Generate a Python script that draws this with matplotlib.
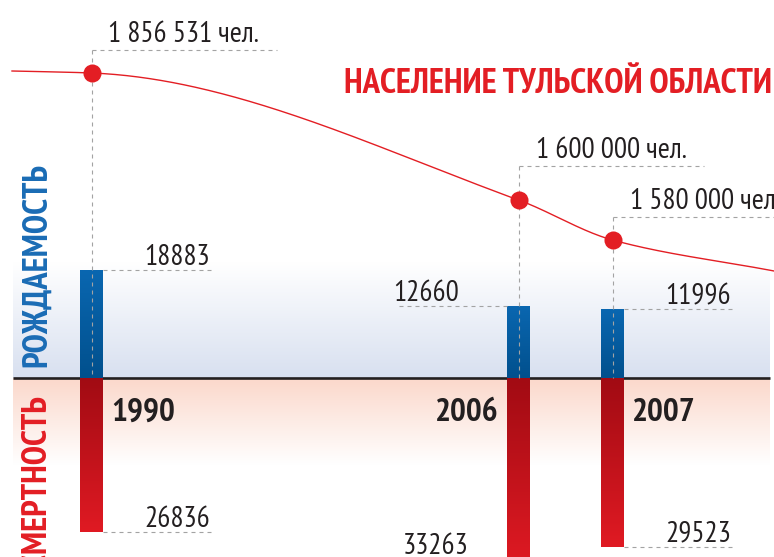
"""
Население Тульской области: рождаемость / смертность, 1990-2007.
Infographic-style recreation: births up (blue), deaths down (red),
population trend drawn on top with its own (out of scale) axis.
"""
import numpy as np
import matplotlib
matplotlib.use("Agg")
import matplotlib.pyplot as plt
from matplotlib.colors import LinearSegmentedColormap

years = ["1990", "2006", "2007"]
births = [18883, 12660, 11996]
deaths = [26836, 33263, 29523]
population = [1856531, 1600000, 1580000]
pop_labels = ["1 856 531 чел.", "1 600 000 чел.", "1 580 000 чел."]
title = "НАСЕЛЕНИЕ ТУЛЬСКОЙ ОБЛАСТИ"
side_top = "РОЖДАЕМОСТЬ"
side_bottom = "СМЕРТНОСТЬ"

# ---- layout (pixels of a 774x557 canvas) ----
W, H = 774, 557
BASE = 378                      # baseline of the bars
PX_PER_PERSON = 0.00572         # bar scale
X_POS = [91.5, 518.5, 612.5]
BAR_W = 23
LEAD_SIDE = [1, -1, 1]          # bar value leaders go right / left of the bar
LEAD_LEN = 110
LABEL_RISE = [23, 34, 23]       # population label line above the dot
TOP_LEAD_LEN = 185
# population is not drawn to scale in the original -> piecewise axis
POP_AXIS = [1_400_000, 1_580_000, 1_600_000, 1_856_531, 2_100_000]
POP_AXIS_PX = [600, 240, 200, 73, -47.5]
CURVE_X = [12, 774]
CURVE_END_PX = [71, 271]

RED = "#e31e24"
BLUE = "#1a6cb5"
INK = "#231f20"
DASH = dict(color="#a3a3a3", lw=0.8, linestyle=(0, (3.6, 3.6)))
FAM = ["PT Sans Narrow", "DejaVu Sans"]
plt.rcParams["font.family"] = FAM


def pop_px(p):
    return np.interp(p, POP_AXIS, POP_AXIS_PX)


def px_pop(px):
    return np.interp(px, POP_AXIS_PX[::-1], POP_AXIS[::-1])


def pchip(xk, yk, xs):
    xk = np.asarray(xk, float); yk = np.asarray(yk, float)
    h = np.diff(xk); d = np.diff(yk) / h
    m = np.zeros_like(yk)
    m[0], m[-1] = d[0], d[-1]
    for i in range(1, len(xk) - 1):
        if d[i - 1] * d[i] > 0:
            w1 = 2 * h[i] + h[i - 1]; w2 = h[i] + 2 * h[i - 1]
            m[i] = (w1 + w2) / (w1 / d[i - 1] + w2 / d[i])
    k = np.clip(np.searchsorted(xk, xs) - 1, 0, len(h) - 1)
    t = (xs - xk[k]) / h[k]
    h00 = 2 * t**3 - 3 * t**2 + 1; h10 = t**3 - 2 * t**2 + t
    h01 = -2 * t**3 + 3 * t**2; h11 = t**3 - t**2
    return h00 * yk[k] + h10 * h[k] * m[k] + h01 * yk[k + 1] + h11 * h[k] * m[k + 1]


def vgrad(ax, extent, c_top, c_bot, **kw):
    g = np.linspace(0, 1, 256)[:, None]
    cmap = LinearSegmentedColormap.from_list("g", [c_top, c_bot])
    return ax.imshow(g, extent=extent, cmap=cmap, aspect="auto",
                     interpolation="bilinear", origin="upper", **kw)


fig = plt.figure(figsize=(W / 100, H / 100), dpi=100)


def full_axes(z):
    a = fig.add_axes([0, 0, 1, 1], zorder=z)
    a.set_axis_off(); a.patch.set_alpha(0)
    return a


# background bands + baseline
bg = full_axes(0)
vgrad(bg, (13, 770, BASE, 262), "#ffffff", "#d8e0f0")
vgrad(bg, (13, 770, 465, BASE), "#fbd8cb", "#ffffff")
bg.plot([13, 770], [BASE, BASE], color=INK, lw=1.9, solid_capstyle="butt")
bg.set_xlim(0, W); bg.set_ylim(H, 0)

# bars in people units
ax = full_axes(1)
up = ax.bar(X_POS, births, width=BAR_W, color="none")
down = ax.bar(X_POS, [-d for d in deaths], width=BAR_W, color="none")
for r in up:
    x0 = r.get_x()
    im = vgrad(ax, (x0, x0 + BAR_W, 0, r.get_height()), "#0a67b1", "#01508d")
    im.set_clip_path(r)
for r in down:
    x0 = r.get_x()
    im = vgrad(ax, (x0, x0 + BAR_W, r.get_height(), 0), "#a10b13", "#e01a23")
    im.set_clip_path(r)

y_lo = -(H - BASE) / PX_PER_PERSON
for i, x in enumerate(X_POS):
    s = LEAD_SIDE[i]
    x_in = x + s * BAR_W / 2
    x_out = x_in + s * LEAD_LEN
    for v in (births[i], -deaths[i]):
        ax.plot([x_in, x_out], [v, v], **DASH)
        # keep the label at the canvas edge when the leader falls below it
        yv = max(v, y_lo - 2 / PX_PER_PERSON)
        if s > 0:
            ax.annotate(f"{abs(v)}", (x_out, yv), xytext=(-2, 3.6),
                        textcoords="offset points", ha="right", va="baseline",
                        fontsize=21, color=INK, annotation_clip=False)
        else:
            dx = -3 if v > 0 else 4
            ax.annotate(f"{abs(v)}", (x_out, yv), xytext=(dx, 3.6),
                        textcoords="offset points", ha="left", va="baseline",
                        fontsize=21, color=INK, annotation_clip=False)
ax.set_xlim(0, W)
ax.set_ylim(y_lo, BASE / PX_PER_PERSON)

# leaders, labels and titles in canvas pixels
lay = full_axes(2)
for i, x in enumerate(X_POS):
    yl = pop_px(population[i]) - LABEL_RISE[i]
    lay.plot([x, x], [yl, BASE], **DASH)
    lay.plot([x, x + TOP_LEAD_LEN], [yl, yl], **DASH)
    lay.text(x + 17, yl - 8, pop_labels[i], ha="left", va="baseline",
             fontsize=21, color=INK)
    s = LEAD_SIDE[i]
    xt = x + s * (BAR_W / 2 + 8)
    lay.text(xt, 421, years[i], ha="left" if s > 0 else "right",
             va="baseline", fontsize=24, fontweight="bold", color=INK)

lay.text(772, 93, title, ha="right", va="baseline", fontsize=25,
         fontweight="bold", color=RED)
lay.text(37, 367, side_top, rotation=90, ha="center", va="bottom",
         fontsize=25, fontweight="bold", color=BLUE)
lay.text(37, 395, side_bottom, rotation=90, ha="center", va="top",
         fontsize=25, fontweight="bold", color=RED)
lay.set_xlim(0, W); lay.set_ylim(H, 0)

# population trend on its own piecewise scale
axp = full_axes(3)
axp.set_yscale("function", functions=(lambda p: -pop_px(p),
                                      lambda h: px_pop(-h)))
xs = np.linspace(CURVE_X[0], CURVE_X[1], 400)
knot_x = [CURVE_X[0]] + X_POS + [CURVE_X[1]]
knot_px = [CURVE_END_PX[0]] + [float(pop_px(p)) for p in population] + [CURVE_END_PX[1]]
axp.plot(xs, px_pop(pchip(knot_x, knot_px, xs)), color=RED, lw=1.0)
axp.plot(X_POS, population, "o", color=RED, ms=13, mec="none")
axp.set_xlim(0, W)
axp.set_ylim(px_pop(H), px_pop(0))

fig.savefig("out.png", dpi=100)
